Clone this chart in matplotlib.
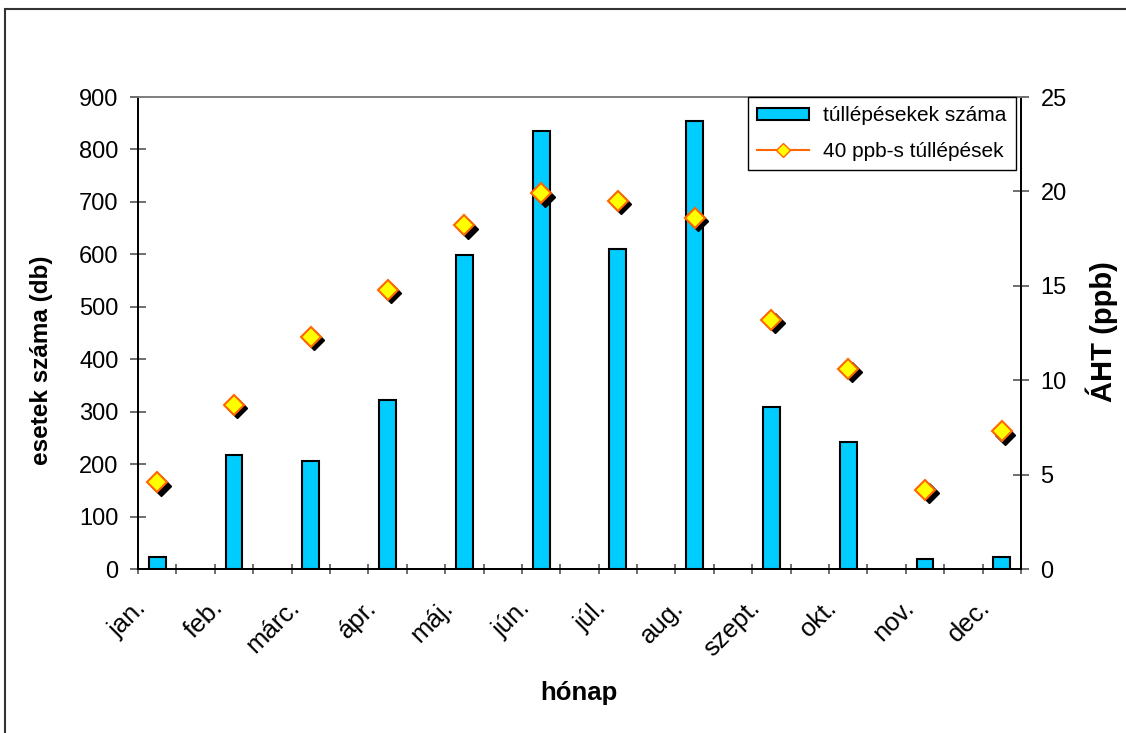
import matplotlib
matplotlib.use("Agg")
import matplotlib.pyplot as plt
from matplotlib.patches import Patch, Rectangle
from matplotlib.lines import Line2D
from matplotlib.transforms import offset_copy, ScaledTranslation
import numpy as np

plt.rcParams['font.family'] = ['Liberation Sans', 'DejaVu Sans']

# Monthly data
months = ['jan.', 'feb.', 'márc.', 'ápr.', 'máj.', 'jún.', 'júl.', 'aug.',
          'szept.', 'okt.', 'nov.', 'dec.']
exceed_counts = [23, 217, 206, 323, 598, 835, 610, 854, 308, 243, 19, 23]
exceed_40ppb = [4.6, 8.7, 12.3, 14.8, 18.2, 19.9, 19.5, 18.6, 13.2, 10.6, 4.2, 7.3]
left_ticks = [0, 100, 200, 300, 400, 500, 600, 700, 800, 900]
right_ticks = [0, 5, 10, 15, 20, 25]

W, H = 1126, 733
fig = plt.figure(figsize=(W / 100, H / 100), dpi=100)

# outer chart-area frame (runs past the right and bottom edges)
fig.patches.append(Rectangle((5 / W, -0.2), 1.2, 1.2 - 9 / H, transform=fig.transFigure,
                             fill=False, edgecolor='#333333', linewidth=1.5))

ax = fig.add_axes([138 / W, 1 - 569 / H, (1021 - 138) / W, (569 - 97) / H])
ax2 = ax.twinx()

# months sit on every second category slot, with empty slots between
n_slots = 2 * len(months) - 1
pos = np.arange(0, n_slots, 2)

ax.bar(pos, exceed_counts, width=0.44, color='#00CCFF', edgecolor='black',
       linewidth=1.5, zorder=3)
ax.set_xlim(-0.5, n_slots - 0.5)
ax.set_ylim(0, 900)
ax.set_yticks(left_ticks)
ax.set_yticklabels([str(v) for v in left_ticks], fontsize=17)

ax2.set_ylim(0, 25)
ax2.set_yticks(right_ticks)
ax2.set_yticklabels([str(v) for v in right_ticks], fontsize=17)

# diamonds with a dropped shadow
shadow = offset_copy(ax2.transData, fig=fig, x=3.5, y=-3.5, units='dots')
ax2.plot(pos, exceed_40ppb, linestyle='none', marker='D', markersize=10,
         color='black', markeredgecolor='black', transform=shadow, zorder=3)
ax2.plot(pos, exceed_40ppb, linestyle='none', marker='D', markersize=10,
         markerfacecolor='#FFFF00', markeredgecolor='#FF6600', markeredgewidth=1.5,
         zorder=4)

# category boundaries as ticks, month names as unmarked minor labels
ax.set_xticks(np.arange(-0.5, n_slots, 1.0))
ax.set_xticklabels([])
ax.set_xticks(pos, minor=True)
ax.set_xticklabels(months, minor=True, rotation=45, ha='right',
                   rotation_mode='anchor', va='center', fontsize=18.5)
ax.tick_params(axis='x', which='minor', length=0, pad=25)
for lbl in ax.get_xticklabels(minor=True):
    lbl.set_transform(lbl.get_transform() + ScaledTranslation(-0.15, 0, fig.dpi_scale_trans))

for a in (ax, ax2):
    a.tick_params(axis='both', which='major', direction='inout', length=12,
                  width=1.2, color='#555555')
    for s in a.spines.values():
        s.set_linewidth(1.3)
        s.set_color('black')
    a.spines['top'].set_color('#808080')
ax.tick_params(axis='x', which='major', length=7)
ax.tick_params(axis='y', pad=8)
ax2.tick_params(axis='y', pad=8)

fig.text(42 / W, 1 - 360 / H, 'esetek száma (db)', rotation=90, ha='center',
         va='center', fontsize=17.5, fontweight='bold')
fig.text(1102 / W, 1 - 332 / H, 'ÁHT (ppb)', rotation=90, ha='center',
         va='center', fontsize=21, fontweight='bold')
fig.text(579 / W, 1 - 693 / H, 'hónap', ha='center', va='center',
         fontsize=18.5, fontweight='bold')

handles = [
    Patch(facecolor='#00CCFF', edgecolor='black', linewidth=1.5),
    Line2D([], [], color='#FF6600', linewidth=1.5, marker='D', markersize=7,
           markerfacecolor='#FFFF00', markeredgecolor='#FF6600'),
]
leg = fig.legend(handles, ['túllépésekek száma', '40 ppb-s túllépések'],
                 loc='upper left', bbox_to_anchor=(748 / W, 1 - 97 / H),
                 bbox_transform=fig.transFigure, borderaxespad=0, fontsize=15,
                 fancybox=False, framealpha=1, edgecolor='black',
                 handlelength=2.5, handleheight=0.55, handletextpad=0.65,
                 labelspacing=0.8, borderpad=0.45)
leg.get_frame().set_linewidth(1.0)

fig.savefig('out.png', dpi=100)
